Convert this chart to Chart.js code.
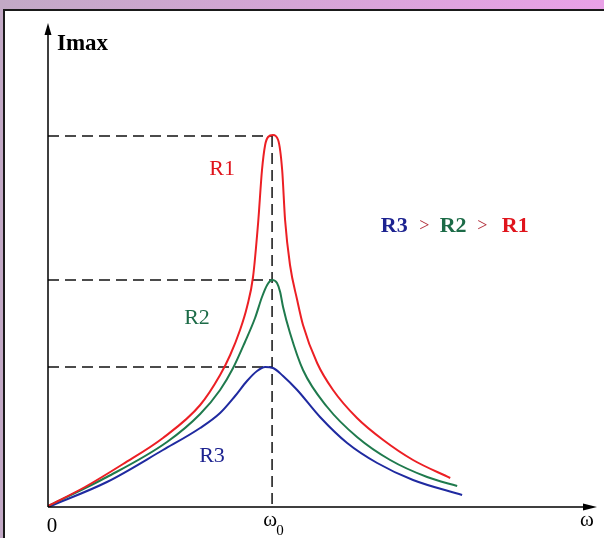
<!DOCTYPE html>
<html>
<head>
<meta charset="utf-8">
<script src="https://cdn.jsdelivr.net/npm/chart.js@4"></script>
<style>
html, body { margin: 0; padding: 0; }
body { width: 604px; height: 538px; overflow: hidden; position: relative;
       background: linear-gradient(90deg, #c2a9c6, #e9a1e7); }
#panel { position: absolute; left: 3px; top: 9px; width: 620px; height: 560px;
         background: #fff; border: 2px solid #1a1a1a; box-sizing: border-box; }
#wrap { position: absolute; left: 0; top: 0; width: 604px; height: 538px; }
</style>
</head>
<body>
<div id="panel"></div>
<div id="wrap"><canvas id="resChart"></canvas></div>
<script>
// frequency in units of the resonance frequency (ω0 = 1), current in arbitrary units
const resonance = 1;
const peakLevels = [3.71, 2.27, 1.40];

const omegaR1 = [0, 0.165, 0.335, 0.513, 0.679, 0.768, 0.813, 0.857, 0.888, 0.915, 0.938, 0.955, 0.969, 0.982, 1.004, 1.027, 1.045, 1.058, 1.080, 1.112, 1.138, 1.201, 1.272, 1.379, 1.496, 1.629, 1.795];
const imaxR1  = [0.01, 0.20, 0.43, 0.69, 1.02, 1.32, 1.52, 1.77, 2.00, 2.30, 2.85, 3.37, 3.62, 3.70, 3.72, 3.67, 3.37, 2.87, 2.42, 2.07, 1.82, 1.44, 1.17, 0.89, 0.67, 0.47, 0.29];

const omegaR2 = [0, 0.263, 0.531, 0.679, 0.768, 0.826, 0.879, 0.924, 0.955, 0.978, 1.0, 1.022, 1.036, 1.049, 1.080, 1.138, 1.246, 1.379, 1.527, 1.692, 1.826];
const imaxR2  = [0.01, 0.30, 0.65, 0.93, 1.17, 1.39, 1.65, 1.89, 2.10, 2.22, 2.27, 2.24, 2.15, 2.00, 1.74, 1.37, 1.00, 0.70, 0.47, 0.30, 0.21];

const omegaR3 = [0, 0.263, 0.513, 0.679, 0.768, 0.835, 0.888, 0.933, 0.969, 1.004, 1.049, 1.112, 1.214, 1.335, 1.469, 1.629, 1.848];
const imaxR3  = [0.00, 0.25, 0.57, 0.79, 0.94, 1.11, 1.26, 1.36, 1.40, 1.39, 1.31, 1.17, 0.90, 0.64, 0.44, 0.27, 0.12];

const seriesNames = ['R1', 'R2', 'R3'];
const lineColors = ['#ec1f24', '#1f7a4d', '#1f2aa0'];
const textColors = ['#e0141c', '#1c6b47', '#1d2390'];

function toPoints(xs, ys) {
    return xs.map((w, i) => ({ x: w, y: ys[i] }));
}

const serif = '"Liberation Serif", "DejaVu Serif", serif';

const resonancePlugin = {
    id: 'resonance',
    beforeDatasetsDraw(chart) {
        const ctx = chart.ctx, xs = chart.scales.x, ys = chart.scales.y;
        const x0 = xs.getPixelForValue(resonance);
        ctx.save();
        ctx.strokeStyle = '#111';
        ctx.lineWidth = 1.5;
        ctx.setLineDash([11, 6]);
        peakLevels.forEach(v => {
            const py = ys.getPixelForValue(v);
            ctx.beginPath();
            ctx.moveTo(xs.getPixelForValue(0), py);
            ctx.lineTo(x0, py);
            ctx.stroke();
        });
        ctx.beginPath();
        ctx.moveTo(x0, ys.getPixelForValue(peakLevels[0]));
        ctx.lineTo(x0, ys.getPixelForValue(0));
        ctx.stroke();
        ctx.restore();
    },
    afterDatasetsDraw(chart) {
        const ctx = chart.ctx, xs = chart.scales.x, ys = chart.scales.y;
        const area = chart.chartArea;
        const ox = xs.getPixelForValue(0), oy = ys.getPixelForValue(0);
        ctx.save();
        // axes with arrows
        ctx.strokeStyle = '#000';
        ctx.fillStyle = '#000';
        ctx.lineWidth = 1.5;
        ctx.beginPath();
        ctx.moveTo(ox, oy); ctx.lineTo(ox, area.top + 6);
        ctx.moveTo(ox, oy); ctx.lineTo(area.right - 6, oy);
        ctx.stroke();
        ctx.beginPath();
        ctx.moveTo(ox, area.top); ctx.lineTo(ox - 3.5, area.top + 12); ctx.lineTo(ox + 3.5, area.top + 12);
        ctx.closePath(); ctx.fill();
        ctx.beginPath();
        ctx.moveTo(area.right, oy); ctx.lineTo(area.right - 14, oy - 3.5); ctx.lineTo(area.right - 14, oy + 3.5);
        ctx.closePath(); ctx.fill();

        // axis texts
        ctx.textBaseline = 'alphabetic';
        ctx.textAlign = 'left';
        ctx.font = 'bold 23px ' + serif;
        ctx.fillText('Imax', ox + 9, area.top + 27);
        ctx.textAlign = 'center';
        ctx.font = '21px ' + serif;
        ctx.fillText('0', ox + 4, oy + 25);
        const x0 = xs.getPixelForValue(resonance);
        ctx.fillText('ω', x0 - 2, oy + 19);
        ctx.font = '15px ' + serif;
        ctx.fillText('0', x0 + 8, oy + 28);
        ctx.font = '21px ' + serif;
        ctx.fillText('ω', area.right - 10, oy + 19);

        // curve names
        const namePos = [[0.777, 3.38], [0.665, 1.89], [0.732, 0.51]];
        ctx.textBaseline = 'middle';
        ctx.font = '22px ' + serif;
        seriesNames.forEach((n, i) => {
            ctx.fillStyle = textColors[i];
            ctx.fillText(n, xs.getPixelForValue(namePos[i][0]), ys.getPixelForValue(namePos[i][1]));
        });

        // R3 > R2 > R1
        const relY = ys.getPixelForValue(2.81);
        const parts = [
            ['R3', 1.545, textColors[2], 'bold 22px '],
            ['>', 1.679, '#b3303c', '18px '],
            ['R2', 1.808, textColors[1], 'bold 22px '],
            ['>', 1.938, '#b3303c', '18px '],
            ['R1', 2.085, textColors[0], 'bold 22px ']
        ];
        parts.forEach(p => {
            ctx.fillStyle = p[2];
            ctx.font = p[3] + serif;
            ctx.fillText(p[0], xs.getPixelForValue(p[1]), relY);
        });
        ctx.restore();
    }
};

const datasets = [
    { label: 'R1', data: toPoints(omegaR1, imaxR1) },
    { label: 'R2', data: toPoints(omegaR2, imaxR2) },
    { label: 'R3', data: toPoints(omegaR3, imaxR3) }
].map((d, i) => Object.assign(d, {
    borderColor: lineColors[i],
    borderWidth: 2,
    pointRadius: 0,
    fill: false,
    cubicInterpolationMode: 'monotone'
}));

new Chart(document.getElementById('resChart').getContext('2d'), {
    type: 'line',
    data: { datasets: datasets },
    options: {
        responsive: true,
        maintainAspectRatio: false,
        animation: false,
        layout: { padding: { left: 48, right: 7, top: 23, bottom: 31 } },
        plugins: { legend: { display: false }, tooltip: { enabled: false } },
        scales: {
            x: { type: 'linear', min: 0, max: 2.45, display: false },
            y: { type: 'linear', min: 0, max: 4.84, display: false }
        }
    },
    plugins: [resonancePlugin]
});
</script>
</body>
</html>
